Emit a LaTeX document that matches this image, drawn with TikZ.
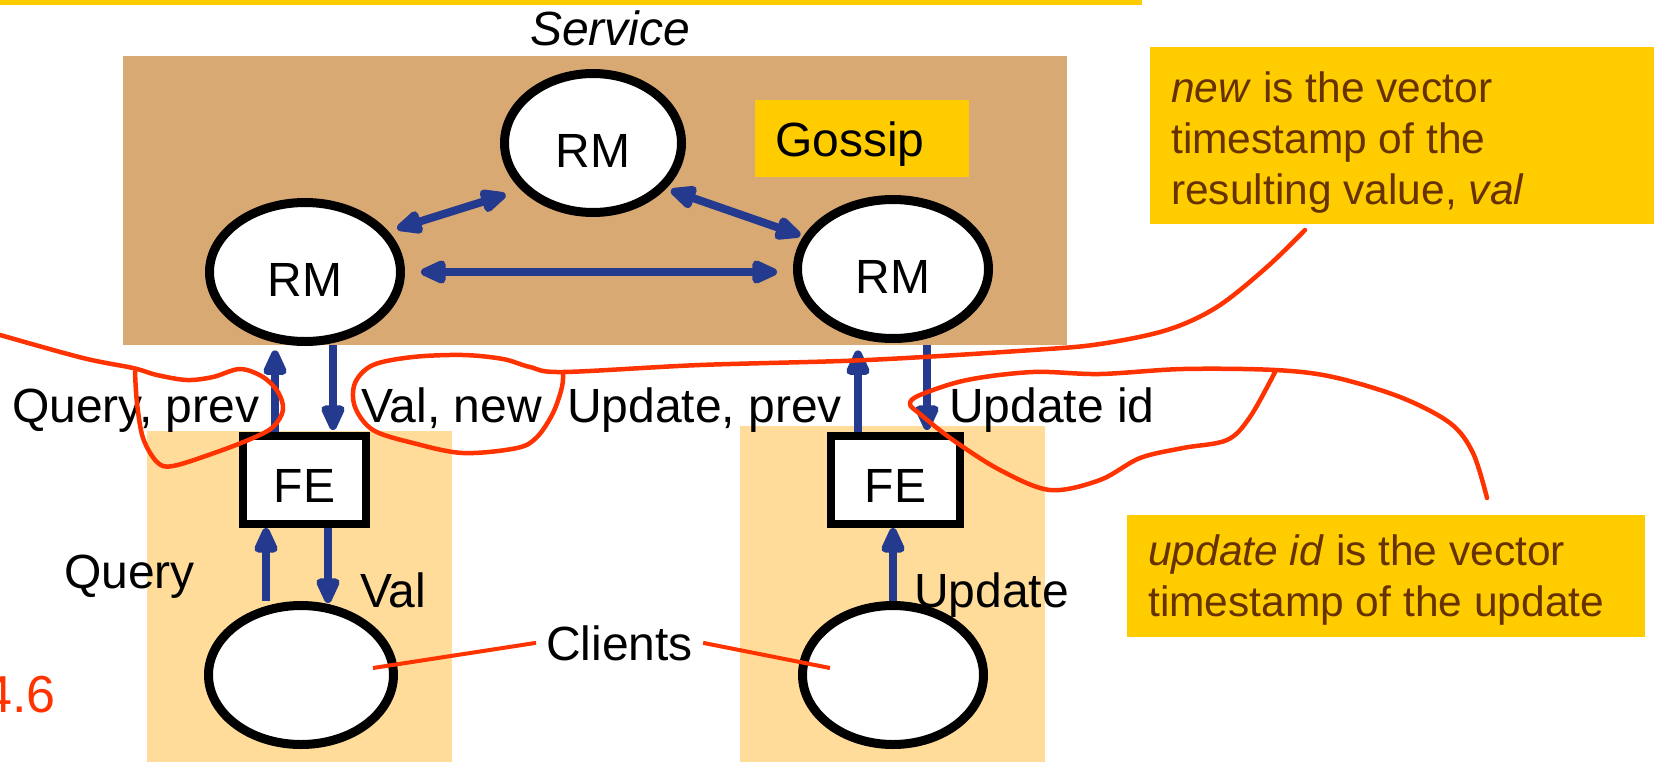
\documentclass[tikz,border=0pt]{standalone}
\usepackage{fontspec}
\setmainfont{Liberation Sans}
\usetikzlibrary{shapes.geometric,arrows.meta}

\definecolor{servicetan}{RGB}{217,169,116}
\definecolor{gold}{RGB}{255,204,0}
\definecolor{peach}{RGB}{255,220,153}
\definecolor{navy}{RGB}{35,58,143}
\definecolor{scarlet}{RGB}{255,51,0}
\definecolor{notebrown}{RGB}{102,51,0}

\begin{document}
\begin{tikzpicture}[x=1pt,y=-1pt,
  big/.style={font=\fontsize{48}{57.6}\selectfont},
  lbl/.style={big, inner sep=0pt},
  rmnode/.style={ellipse, draw=black, fill=white, line width=9pt,
    minimum height=139pt, inner sep=0pt, big, text height=48pt, text depth=0pt},
  febox/.style={rectangle, draw=black, fill=white, line width=8pt,
    minimum height=88pt, inner sep=0pt, big, text height=44pt, text depth=0pt},
  tipshape/.tip={Triangle[length=31pt,width=25pt,round]},
  flow/.style={draw=navy, line width=8pt, -tipshape},
  gossiparrow/.style={draw=navy, line width=8pt, tipshape-tipshape},
  ink/.style={draw=scarlet, line width=4.5pt, line cap=round, line join=round},
  pointer/.style={draw=scarlet, line width=4pt},
  note/.style={font=\fontsize{42.5}{51}\selectfont, text=notebrown,
    align=left, inner sep=0pt, anchor=north west},
  panel/.style={inner sep=0pt, anchor=north west}
]
\useasboundingbox (0,0) rectangle (1654,761);
\clip (0,0) rectangle (1654,761);

% title rule and service caption
\fill[gold] (0,0) rectangle (1142,5);
\node[lbl, anchor=base west, font=\fontsize{48}{57.6}\selectfont\itshape] (title) at (530,45) {Service};

% client-side panels
\node[panel, fill=peach, minimum width=305pt, minimum height=340pt] (panelL) at (147,431) {};
\node[panel, fill=peach, minimum width=305pt, minimum height=340pt] (panelR) at (740,426) {};

% the service with its replica managers
\node[panel, fill=servicetan, minimum width=944pt, minimum height=289pt] (service) at (123,56) {};
\node[panel, fill=gold, minimum width=214pt, minimum height=77pt,
      inner xsep=20pt, text width=174pt, align=left, big, text height=36pt, text depth=0pt]
      (gossip) at (755,100) {Gossip};

\node[rmnode, minimum width=177pt] (rmT) at (593,143) {RM};
\node[rmnode, minimum width=191pt] (rmL) at (305,272) {RM};
\node[rmnode, minimum width=191pt] (rmR) at (893,269) {RM};

% gossip exchanges
\draw[gossiparrow, shorten <=9pt, shorten >=16pt] (rmL.26) -- (rmT.213);
\draw[gossiparrow, shorten <=5pt, shorten >=3pt] (rmT.-32) -- (rmR.160);
\draw[gossiparrow, shorten <=16pt, shorten >=16pt] (rmL.east) -- (rmL.east -| rmR.west);

% front ends and clients
\node[febox, minimum width=123pt] (feL) at (304.5,480) {FE};
\node[febox, minimum width=129pt] (feR) at (895.5,480) {FE};
\node[rmnode, minimum width=185pt] (cL) at (301,675) {};
\node[rmnode, minimum width=181pt] (cR) at (893,675) {};

% columns of the request/reply arrows
\coordinate (xQP) at (275,0);
\coordinate (xVN) at (333,0);
\coordinate (xUP) at (858,0);
\coordinate (xUI) at (927,0);
\coordinate (xQ)  at (266,0);
\coordinate (xV)  at (328,0);
\coordinate (xU)  at (893,0);

\draw[flow, shorten >=5pt] (feL.north -| xQP) -- (service.south -| xQP);
\draw[flow, shorten >=2pt] (service.south -| xVN) -- (feL.north -| xVN);
\draw[flow, shorten >=5pt] (feR.north -| xUP) -- (service.south -| xUP);
\draw[flow, shorten >=2pt] (service.south -| xUI) -- (feR.north -| xUI);
\draw[flow] (cL.north -| xQ) -- (feL.south -| xQ);
\draw[flow, shorten >=-2pt] (feL.south -| xV) -- (cL.north -| xV);
\draw[flow] (cR.north -| xU) -- (feR.south -| xU);

% message labels
\node[lbl, anchor=base west] (lQP) at (12,422) {Query, prev};
\node[lbl, anchor=base west] (lVN) at (361,422) {Val, new};
\node[lbl, anchor=base west] (lUP) at (567,422) {Update, prev};
\node[lbl, anchor=base west] (lUI) at (949,422) {Update id};
\node[lbl, anchor=base west] (lQ)  at (64,588) {Query};
\node[lbl, anchor=base west] (lV)  at (360,607) {Val};
\node[lbl, anchor=base west] (lU)  at (914,607) {Update};
\node[lbl, anchor=base west, inner xsep=10pt] (clients) at (536,660) {Clients};
\node[lbl, anchor=base east, text=scarlet, font=\fontsize{52}{62}\selectfont] (fignum) at (56,712) {4.6};

% pointers from the clients label
\coordinate (pL) at (373,668);
\coordinate (pR) at (830,668);
\draw[pointer] (clients.west) -- (pL);
\draw[pointer] (clients.east) -- (pR);

% explanatory notes
\node[panel, fill=gold, minimum width=520pt, minimum height=177pt] (box1) at (1150,47) {};
\node[note] (note1) at (1171,71) {\textit{new} is the vector\\timestamp of the\\resulting value, \textit{val}};
\node[panel, fill=gold, minimum width=518pt, minimum height=122pt] (box2) at (1127,515) {};
\node[note] (note2) at (1148,534) {\textit{update id} is the vector\\timestamp of the update};

% hand-drawn lassos
\draw[ink] plot[smooth, tension=0.55] coordinates {
  (-10,332) (0,335) (83,358) (133,368) (157,375) (187,380) (213,377) (240,369)
  (263,377) (278,392) (283,410) (273,427) (253,438) (217,452) (173,466)
  (157,462) (143,438) (137,403) (135,372)};
\draw[ink] plot[smooth, tension=0.55] coordinates {
  (1305,230) (1267,267) (1217,307) (1167,330) (1100,344) (1033,350) (867,360)
  (700,365) (563,372) (530,367) (503,359) (463,355) (413,357) (373,365)
  (355,383) (355,407) (373,430) (413,443) (463,453) (517,448) (537,437)
  (553,413) (562,387) (563,372)};
\draw[ink] plot[smooth, tension=0.55] coordinates {
  (1487,498) (1473,453) (1450,423) (1400,397) (1333,377) (1275,370) (1183,369)
  (1100,374) (1033,372) (967,380) (920,395) (910,404) (920,414) (953,440)
  (1000,470) (1050,490) (1100,480) (1140,458) (1183,448) (1227,440)
  (1250,417) (1275,372)};
\end{tikzpicture}
\end{document}
